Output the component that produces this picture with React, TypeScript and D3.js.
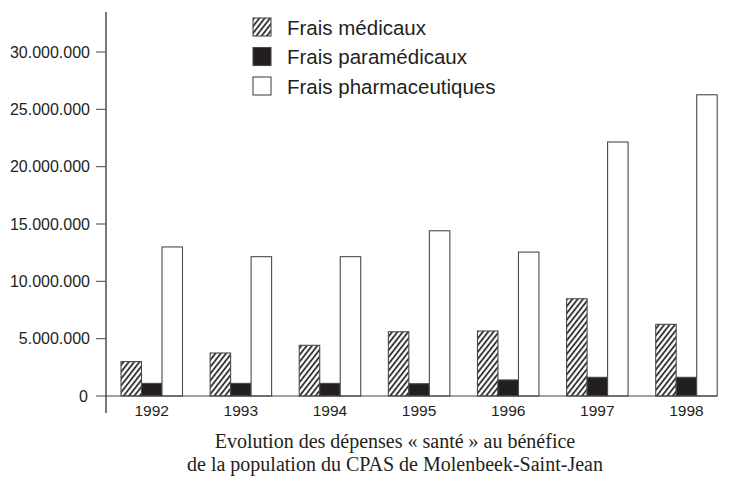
import React from "react";
import * as d3 from "d3";

const years = ["1992", "1993", "1994", "1995", "1996", "1997", "1998"];
const fraisMedicaux = [3.0, 3.75, 4.42, 5.6, 5.67, 8.48, 6.25].map((v) => v * 1e6);
const fraisParamedicaux = [1.1, 1.1, 1.1, 1.07, 1.4, 1.63, 1.63].map((v) => v * 1e6);
const fraisPharma = [13.0, 12.15, 12.15, 14.41, 12.55, 22.15, 26.27].map((v) => v * 1e6);
const yTicks = [0, 5e6, 10e6, 15e6, 20e6, 25e6, 30e6];
const seriesNames = ["Frais médicaux", "Frais paramédicaux", "Frais pharmaceutiques"];
const captionLines = [
  "Evolution des dépenses « santé » au bénéfice",
  "de la population du CPAS de Molenbeek-Saint-Jean",
];

const INK = "#231f20";
const SANS = "'Liberation Sans', Arial, sans-serif";
const SERIF = "'Liberation Serif', 'Times New Roman', serif";

const fills = ["url(#hatch)", INK, "#ffffff"];
const series = [fraisMedicaux, fraisParamedicaux, fraisPharma];

const fmt = (v: number) => (v === 0 ? "0" : d3.format(",")(v).replace(/,/g, "."));

export default function App() {
  const W = 740;
  const H = 479;
  const x0 = 106;
  const y = d3.scaleLinear().domain([0, 30e6]).range([396, 52]);
  const x = d3.scaleBand().domain(years).range([121, 717.2]).paddingInner(0.31).paddingOuter(0);
  const xs = d3.scaleBand().domain(["0", "1", "2"]).range([0, x.bandwidth()]).padding(0);
  const bw = xs.bandwidth();

  return (
    <svg
      width={W}
      height={H}
      style={{ position: "absolute", left: 0, top: 0, background: "#fff" }}
    >
      <defs>
        <pattern
          id="hatch"
          patternUnits="userSpaceOnUse"
          width={4.2}
          height={4.2}
          patternTransform="rotate(38)"
        >
          <rect x={0} y={0} width={4.2} height={4.2} fill="#fff" />
          <line x1={1} y1={-1} x2={1} y2={5.2} stroke={INK} strokeWidth={1.7} />
        </pattern>
      </defs>

      {/* bars */}
      {years.map((yr, i) => (
        <g key={yr}>
          {series.map((s, k) => (
            <rect
              key={k}
              x={(x(yr) as number) + (xs(String(k)) as number)}
              y={y(s[i])}
              width={bw}
              height={y(0) - y(s[i])}
              fill={fills[k]}
              stroke="#4a4a4a"
              strokeWidth={1.1}
            />
          ))}
          <text
            x={(x(yr) as number) + x.bandwidth() / 2}
            y={416}
            textAnchor="middle"
            fontFamily={SANS}
            fontSize={15.5}
            fill={INK}
          >
            {yr}
          </text>
        </g>
      ))}

      {/* y axis */}
      <line x1={x0} x2={x0} y1={12} y2={413} stroke={INK} strokeWidth={1.2} />
      {yTicks.map((t) => (
        <g key={t}>
          <line x1={96} x2={x0} y1={y(t)} y2={y(t)} stroke="#555" strokeWidth={1.1} />
          <text
            x={t === 0 ? 88 : 90}
            y={y(t)}
            dy="0.36em"
            textAnchor="end"
            fontFamily={SANS}
            fontSize={16}
            fill={INK}
          >
            {fmt(t)}
          </text>
        </g>
      ))}
      {/* baseline */}
      <line x1={x0} x2={717.2} y1={y(0)} y2={y(0)} stroke="#444" strokeWidth={1.2} />

      {/* legend */}
      {seriesNames.map((n, k) => (
        <g key={n} transform={`translate(253, ${18 + k * 29.5})`}>
          <rect x={0} y={0} width={18} height={18} fill={fills[k]} stroke="#4a4a4a" strokeWidth={1.1} />
          <text x={34} y={16.5} fontFamily={SANS} fontSize={20.5} fill={INK}>
            {n}
          </text>
        </g>
      ))}

      {/* caption */}
      {captionLines.map((l, i) => (
        <text
          key={i}
          x={395}
          y={448 + i * 22.5}
          textAnchor="middle"
          fontFamily={SERIF}
          fontSize={20}
          fill={INK}
        >
          {l}
        </text>
      ))}
    </svg>
  );
}
